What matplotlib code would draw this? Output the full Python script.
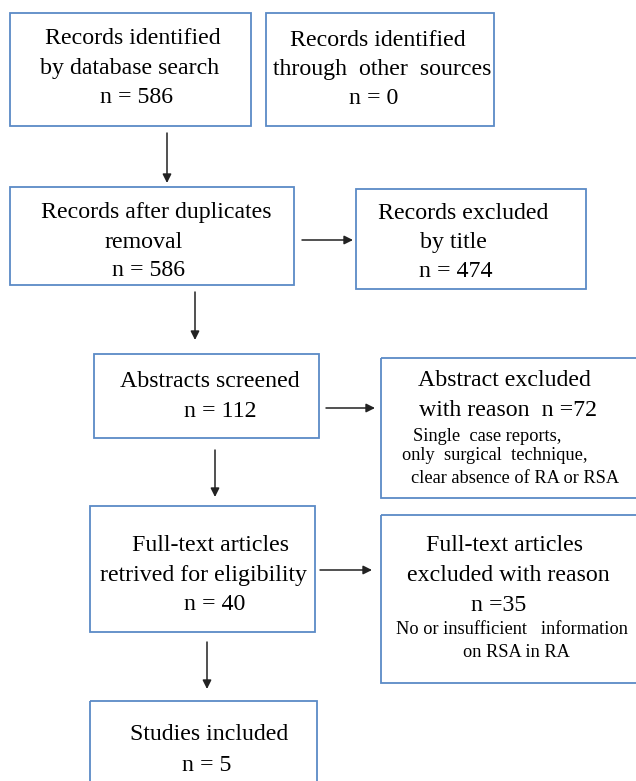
import matplotlib
matplotlib.use("Agg")
import matplotlib.pyplot as plt
from matplotlib.patches import Rectangle

# ---------------- data ----------------
stage_labels = [
    ["Records identified", "by database search"],
    ["Records identified", "through  other  sources"],
    ["Records after duplicates", "removal"],
    ["Records excluded", "by title"],
    ["Abstracts screened"],
    ["Abstract excluded"],
    ["Full-text articles", "retrived for eligibility"],
    ["Full-text articles", "excluded with reason"],
    ["Studies included"],
]
stage_counts = [586, 0, 586, 474, 112, 72, 40, 35, 5]
abstract_reasons = ["Single  case reports,", "only  surgical  technique,",
                    "clear absence of RA or RSA"]
fulltext_reasons = ["No or insufficient   information", "on RSA in RA"]

# ---------------- layout (pixel coordinates, y downwards) ----------------
boxes = [
    (10, 13, 251, 126),
    (266, 13, 494, 126),
    (10, 187, 294, 285),
    (356, 189, 586, 289),
    (94, 354, 319, 438),
    (381, 358, 645, 498),
    (90, 506, 315, 632),
    (381, 515, 645, 683),
    (90, 701, 317, 800),
]
main_pos = [
    [(133, 44), (130, 74), (136, 103)],
    [(378, 46), (382, 75), (374, 104)],
    [(156, 218), (144, 248), (148, 276)],
    [(463, 219), (453, 248), (456, 277)],
    [(210, 387), (220, 417)],
    [(504, 386), (508, 416)],
    [(211, 551), (204, 581), (215, 610)],
    [(505, 551), (508, 581), (499, 611)],
    [(209, 740), (207, 771)],
]
abs_reason_pos = [(487, 441), (495, 460), (515, 483)]
ft_reason_pos = [(512, 634), (516, 657)]

arrows = [
    ((167, 133), (167, 183)),
    ((302, 240), (353, 240)),
    ((195, 292), (195, 340)),
    ((326, 408), (375, 408)),
    ((215, 450), (215, 497)),
    ((320, 570), (372, 570)),
    ((207, 642), (207, 689)),
]

edge_color = "#5b8ac6"
main_fs = 17.2
small_fs = 13.2
font = ["Liberation Serif", "DejaVu Serif"]

fig = plt.figure(figsize=(6.36, 7.81), dpi=100)
ax = fig.add_axes([0, 0, 1, 1])
ax.set_xlim(0, 636)
ax.set_ylim(781, 0)
ax.axis("off")

for (x0, y0, x1, y1) in boxes:
    ax.add_patch(Rectangle((x0, y0), x1 - x0, y1 - y0, fill=False,
                           edgecolor=edge_color, linewidth=1.3))

for i, (labels, count) in enumerate(zip(stage_labels, stage_counts)):
    if i == 5:
        lines = [labels[0], f"with reason  n ={count}"]
    elif i == 7:
        lines = labels + [f"n ={count}"]
    else:
        lines = labels + [f"n = {count}"]
    for txt, (cx, by) in zip(lines, main_pos[i]):
        ax.text(cx, by, txt, ha="center", va="baseline",
                fontsize=main_fs, family=font, color="black")

for txt, (cx, by) in zip(abstract_reasons, abs_reason_pos):
    ax.text(cx, by, txt, ha="center", va="baseline",
            fontsize=small_fs, family=font, color="black")
for txt, (cx, by) in zip(fulltext_reasons, ft_reason_pos):
    ax.text(cx, by, txt, ha="center", va="baseline",
            fontsize=small_fs, family=font, color="black")

for (start, end) in arrows:
    ax.annotate("", xy=end, xytext=start,
                arrowprops=dict(arrowstyle="-|>", color="#222222", lw=1.1,
                                mutation_scale=13, shrinkA=0, shrinkB=0))

fig.savefig("out.png", dpi=100)
